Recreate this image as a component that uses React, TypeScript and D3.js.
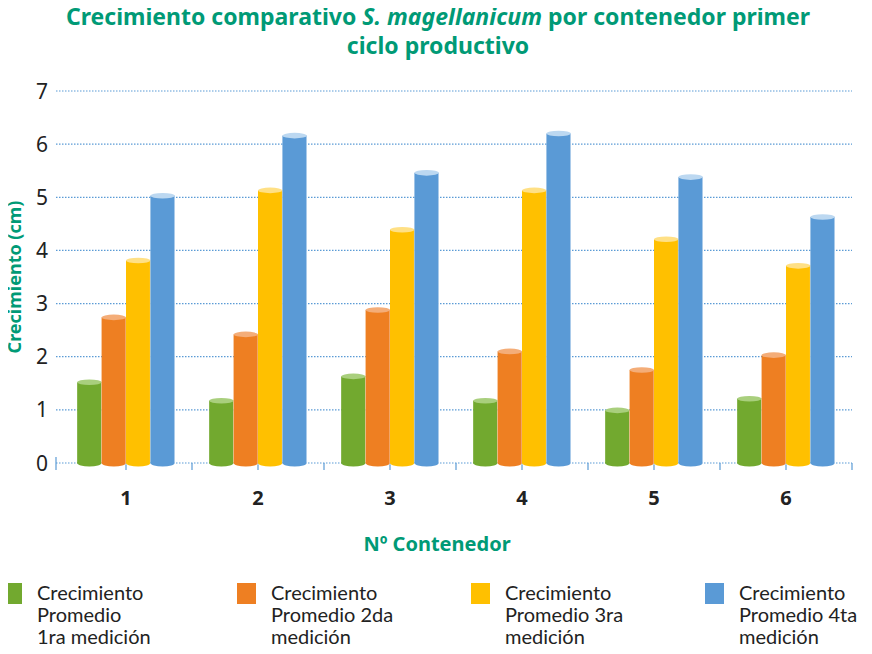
import React, { useRef, useEffect } from "react";
import * as d3 from "d3";

// container numbers and the four averaged measurements (cm)
const contenedores = ["1", "2", "3", "4", "5", "6"];
const medicion1 = [1.52, 1.17, 1.63, 1.17, 0.99, 1.21];
const medicion2 = [2.74, 2.42, 2.88, 2.1, 1.75, 2.03];
const medicion3 = [3.81, 5.13, 4.39, 5.13, 4.21, 3.71];
const medicion4 = [5.03, 6.16, 5.46, 6.2, 5.38, 4.63];
const seriesNames = [
  ["Crecimiento", "Promedio", "1ra medición"],
  ["Crecimiento", "Promedio 2da", "medición"],
  ["Crecimiento", "Promedio 3ra", "medición"],
  ["Crecimiento", "Promedio 4ta", "medición"],
];
const yTicks = [0, 1, 2, 3, 4, 5, 6, 7];

const colors = ["#72a92f", "#ee7f22", "#ffc000", "#5a9ad6"];
const topColors = ["#a9cf7d", "#f4ad78", "#ffe085", "#bcd8f1"];
const teal = "#009a76";
const font = "'Noto Sans', sans-serif";

const App = () => {
  const svgRef = useRef(null);

  useEffect(() => {
    const svg = d3.select(svgRef.current);
    svg.selectAll("*").remove();

    const allSeries = [medicion1, medicion2, medicion3, medicion4];

    const x = d3
      .scaleBand()
      .domain(contenedores)
      .range([60, 852])
      .paddingInner(0.26)
      .paddingOuter(0.13);
    const xSub = d3
      .scaleBand()
      .domain(d3.range(4).map(String))
      .range([0, x.bandwidth()]);
    const y = d3.scaleLinear().domain([0, 7]).range([463, 91]);

    // title
    const title = svg
      .append("text")
      .attr("x", 438)
      .attr("y", 25)
      .attr("text-anchor", "middle")
      .style("font-family", font)
      .style("font-weight", "bold")
      .style("font-size", "23px")
      .style("fill", teal);
    title.append("tspan").text("Crecimiento comparativo ");
    title.append("tspan").style("font-style", "italic").text("S. magellanicum");
    title.append("tspan").text(" por contenedor primer");
    svg
      .append("text")
      .attr("x", 438)
      .attr("y", 54)
      .attr("text-anchor", "middle")
      .style("font-family", font)
      .style("font-weight", "bold")
      .style("font-size", "23px")
      .style("fill", teal)
      .text("ciclo productivo");

    // gridlines (dotted)
    svg
      .selectAll(".grid")
      .data(yTicks)
      .enter()
      .append("line")
      .attr("class", "grid")
      .attr("x1", 56)
      .attr("x2", 852)
      .attr("y1", (d) => y(d))
      .attr("y2", (d) => y(d))
      .style("stroke", "#5b9bd5")
      .style("stroke-width", 1.2)
      .style("stroke-dasharray", "1.5,1.5");

    // y tick labels
    svg
      .selectAll(".ylab")
      .data(yTicks)
      .enter()
      .append("text")
      .attr("class", "ylab")
      .attr("x", 48)
      .attr("y", (d) => y(d))
      .attr("dy", "0.36em")
      .attr("text-anchor", "end")
      .style("font-family", font)
      .style("font-size", "21px")
      .style("fill", "#222")
      .text((d) => d);

    // small axis ticks
    svg
      .append("line")
      .attr("x1", 56)
      .attr("x2", 56)
      .attr("y1", y(0) - 6)
      .attr("y2", y(0) + 7)
      .style("stroke", "#5b9bd5")
      .style("stroke-width", 1.2);
    const tickPos = [];
    contenedores.forEach((c) => {
      const center = x(c) + x.bandwidth() / 2;
      tickPos.push(center);
      tickPos.push(center + x.step() / 2);
    });
    svg
      .selectAll(".xtick")
      .data(tickPos)
      .enter()
      .append("line")
      .attr("class", "xtick")
      .attr("x1", (d) => d)
      .attr("x2", (d) => d)
      .attr("y1", y(0))
      .attr("y2", y(0) + 7)
      .style("stroke", "#5b9bd5")
      .style("stroke-width", 1.2);

    // cylinder bars
    allSeries.forEach((vals, s) => {
      const g = svg.append("g");
      vals.forEach((v, i) => {
        const bx = x(contenedores[i]) + xSub(String(s));
        const w = xSub.bandwidth();
        const cx = bx + w / 2;
        g.append("ellipse")
          .attr("cx", cx)
          .attr("cy", y(0))
          .attr("rx", w / 2)
          .attr("ry", 3.5)
          .style("fill", colors[s]);
        g.append("rect")
          .attr("x", bx)
          .attr("y", y(v))
          .attr("width", w)
          .attr("height", y(0) - y(v))
          .style("fill", colors[s]);
        g.append("line")
          .attr("x1", bx + w)
          .attr("x2", bx + w)
          .attr("y1", y(v))
          .attr("y2", y(0) + 2)
          .style("stroke", "#fff")
          .style("stroke-opacity", 0.6)
          .style("stroke-width", 1);
        g.append("ellipse")
          .attr("cx", cx)
          .attr("cy", y(v))
          .attr("rx", w / 2)
          .attr("ry", 2.8)
          .style("fill", topColors[s]);
      });
    });

    // x labels
    svg
      .selectAll(".xlab")
      .data(contenedores)
      .enter()
      .append("text")
      .attr("class", "xlab")
      .attr("x", (d) => x(d) + x.bandwidth() / 2)
      .attr("y", 505)
      .attr("text-anchor", "middle")
      .style("font-family", font)
      .style("font-weight", "bold")
      .style("font-size", "20px")
      .style("fill", "#222")
      .text((d) => d);

    // axis titles
    svg
      .append("text")
      .attr("x", 437)
      .attr("y", 551)
      .attr("text-anchor", "middle")
      .style("font-family", font)
      .style("font-weight", "bold")
      .style("font-size", "20px")
      .style("fill", teal)
      .text("Nº Contenedor");
    svg
      .append("text")
      .attr("transform", "translate(21,277) rotate(-90)")
      .attr("text-anchor", "middle")
      .style("font-family", font)
      .style("font-weight", "bold")
      .style("font-size", "18px")
      .style("fill", teal)
      .text("Crecimiento (cm)");

    // legend
    const legendX = [3, 237, 471, 705];
    seriesNames.forEach((lines, s) => {
      const lg = svg.append("g").attr("transform", "translate(" + legendX[s] + ",583)");
      lg.append("rect").attr("width", 19).attr("height", 21).style("fill", colors[s]);
      lines.forEach((t, k) => {
        lg.append("text")
          .attr("x", 34)
          .attr("y", 17 + k * 22)
          .style("font-family", "Lato, sans-serif")
          .style("font-size", "20px")
          .style("fill", "#222")
          .text(t);
      });
    });
  }, []);

  return (
    <div style={{ margin: "-8px" }}>
      <svg ref={svgRef} width={872} height={654} style={{ display: "block" }}></svg>
    </div>
  );
};

export default App;
